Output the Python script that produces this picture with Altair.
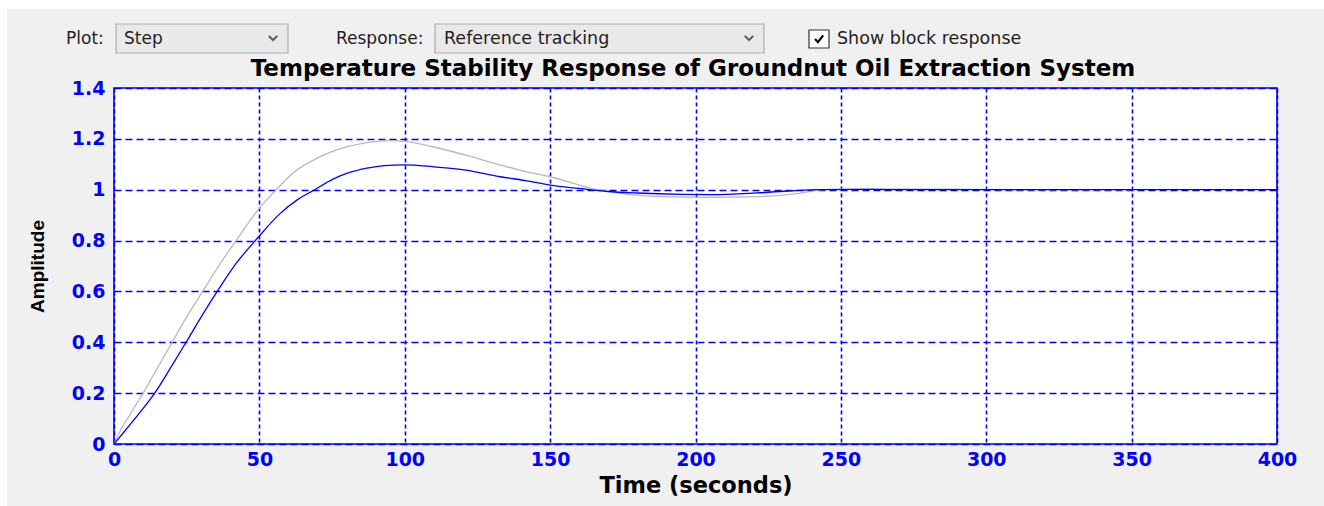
import altair as alt
import pandas as pd

# ---- data ----
closed_t = [0, 4, 9, 14, 19.5, 24.8, 30, 35.5, 42, 49, 57, 63, 69, 75, 81, 87, 93, 100,
            110, 121, 133, 142, 150, 160, 170, 180, 195, 205, 213, 225, 242, 260, 272,
            300, 350, 400]
closed_y = [0, 0.055, 0.125, 0.2, 0.3, 0.40, 0.50, 0.60, 0.71, 0.805, 0.905, 0.96, 1.0,
            1.04, 1.068, 1.085, 1.095, 1.098, 1.09, 1.077, 1.051, 1.035, 1.018, 1.005,
            0.993, 0.987, 0.982, 0.981, 0.983, 0.99, 1.0, 1.001, 1.0, 1.0, 1.0, 1.0]

block_t = [0, 2.3, 6, 10, 15, 20, 25, 30.5, 36, 42, 50, 55, 62, 70, 75, 80, 87, 95,
           100, 110, 121, 133, 142, 150, 158, 166, 175, 188, 205, 222, 235, 244, 260,
           286, 320, 350]
block_y = [0, 0.055, 0.125, 0.2, 0.3, 0.4, 0.5, 0.6, 0.7, 0.8, 0.927, 0.99, 1.07, 1.125,
           1.15, 1.168, 1.185, 1.193, 1.19, 1.168, 1.136, 1.097, 1.07, 1.051, 1.025, 1.0,
           0.985, 0.973, 0.97, 0.973, 0.985, 1.0, 1.003, 1.002, 1.0, 1.0]

x_ticks = [0, 50, 100, 150, 200, 250, 300, 350, 400]
y_ticks = [0, 0.2, 0.4, 0.6, 0.8, 1.0, 1.2, 1.4]

title_text = "Temperature Stability Response of Groundnut Oil Extraction System"

closed_df = pd.DataFrame({"t": closed_t, "a": closed_y})
block_df = pd.DataFrame({"t": block_t, "a": block_y})
one = pd.DataFrame({"k": [0]})

BLUE = "#0000ff"

xscale = alt.Scale(domain=[0, 400], nice=False, zero=False)
yscale = alt.Scale(domain=[0, 1.4], nice=False, zero=False)

xaxis = alt.Axis(values=x_ticks, title="Time (seconds)", grid=True, gridDash=[4, 3],
                 gridColor=BLUE, gridWidth=1.6, gridOpacity=1, ticks=False, domain=False,
                 labelColor=BLUE, labelFont="DejaVu Sans", labelFontWeight="bold",
                 labelFontSize=19, labelPadding=6, titleFont="DejaVu Sans",
                 titleFontWeight="bold", titleFontSize=22.5, titleColor="black",
                 titlePadding=5, labelFlush=False)
yaxis = alt.Axis(values=y_ticks, title="Amplitude", format=".1~f", grid=True,
                 gridDash=[7, 4], gridColor=BLUE, gridWidth=1.3, gridOpacity=1,
                 ticks=False, domain=False, labelColor=BLUE, labelFont="DejaVu Sans",
                 labelFontWeight="bold", labelFontSize=19, labelPadding=9,
                 titleFont="Liberation Sans", titleFontWeight="bold", titleFontSize=19,
                 titleColor="black", titlePadding=24, labelFlush=False)

block_line = alt.Chart(block_df).mark_line(color="#b8b8b8", strokeWidth=1.3,
                                           interpolate="monotone").encode(
    x=alt.X("t:Q", scale=xscale, axis=xaxis),
    y=alt.Y("a:Q", scale=yscale, axis=yaxis),
)
closed_line = alt.Chart(closed_df).mark_line(color=BLUE, strokeWidth=1.3,
                                             interpolate="monotone").encode(
    x=alt.X("t:Q", scale=xscale),
    y=alt.Y("a:Q", scale=yscale),
)


# ---- decorative window widgets (outside the plot area) ----
def rect(x, x2, y, y2, fill, stroke=None, sw=1):
    kw = dict(fill=fill, clip=False)
    if stroke:
        kw.update(stroke=stroke, strokeWidth=sw)
    return alt.Chart(one).mark_rect(**kw).encode(
        x=alt.value(x), x2=alt.value(x2), y=alt.value(y), y2=alt.value(y2))


def label(x, y, txt, size=17, color="#1e1e1e", font="DejaVu Sans", weight="normal",
          align="left", baseline="middle"):
    return alt.Chart(one).mark_text(text=txt, align=align, baseline=baseline,
                                    font=font, fontSize=size, color=color,
                                    fontWeight=weight, clip=False).encode(
        x=alt.value(x), y=alt.value(y))


def glyph(x, y, path, size, color, sw):
    return alt.Chart(one).mark_point(shape=path, filled=False, stroke=color,
                                     strokeWidth=sw, size=size, opacity=1,
                                     clip=False).encode(x=alt.value(x), y=alt.value(y))


chevron = "M-1,-0.5L0,0.5L1,-0.5"
check = "M-0.75,0L-0.2,0.6L0.8,-0.7"

widgets = [
    rect(-114, 1210, -88, -79, "white"),
    rect(-114, -107, -88, 418, "white"),
    label(-48, -49, "Plot:"),
    rect(2, 174, -64, -35, "#e9e9e9", "#adadad", 1.2),
    label(10, -49, "Step"),
    glyph(159, -50, chevron, 70, "#555555", 2),
    label(222, -49, "Response:"),
    rect(321, 650, -64, -35, "#e9e9e9", "#adadad", 1.2),
    label(330, -49, "Reference tracking", size=17.5),
    glyph(635, -50, chevron, 70, "#555555", 2),
    rect(695, 715, -58, -40, "white", "#333333", 1.2),
    glyph(705, -49, check, 110, "black", 2.2),
    label(723, -49, "Show block response", size=17.5),
    label(579, -12, title_text, size=23, color="black", weight="bold",
          align="center", baseline="alphabetic"),
]

chart = alt.layer(block_line, closed_line, *widgets).properties(
    width=1163,
    height=356,
    autosize=alt.AutoSizeParams(type="none"),
    padding={"left": 114, "top": 88, "right": 47, "bottom": 62},
    background="#f0f0f0",
).configure_view(fill="white", stroke=BLUE, strokeWidth=1.6)

chart.save("out.html", embed_options={"renderer": "svg", "actions": False})
